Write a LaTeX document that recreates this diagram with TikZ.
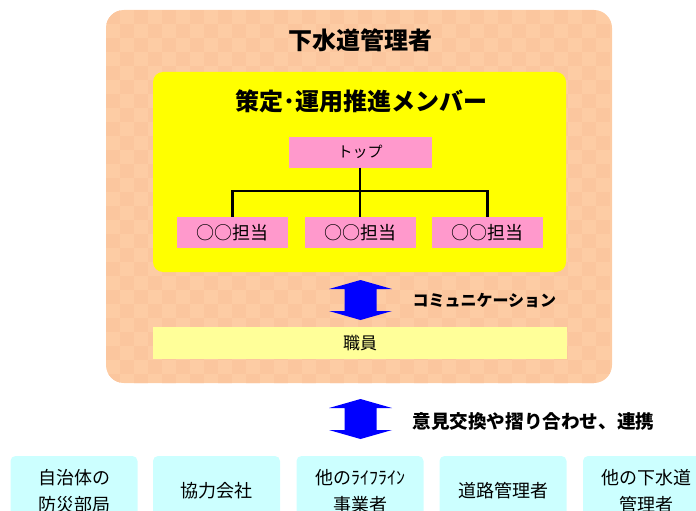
\documentclass[tikz,border=0pt]{standalone}
\usepackage{fontspec}
\newfontfamily\cjk{Noto Sans CJK JP}
\usetikzlibrary{positioning}
\definecolor{peach}{HTML}{FDCCA4}
\definecolor{peachdark}{HTML}{FBC69E}
\definecolor{ylw}{HTML}{FFFF00}
\definecolor{pinkbox}{HTML}{FF99CC}
\definecolor{paleylw}{HTML}{FFFF99}
\definecolor{cyanbox}{HTML}{CCFFFF}
\definecolor{arrowblue}{HTML}{0000FF}
\tikzset{
  x=1pt, y=-1pt,
  pinkrole/.style={fill=pinkbox, draw=none, minimum width=111pt, minimum height=31pt, inner sep=0pt, font=\cjk\fontsize{18}{20}\selectfont},
  partner/.style={fill=cyanbox, draw=none, rounded corners=5pt, minimum width=127pt, minimum height=70pt, inner sep=0pt, align=center},
  partnertext/.style={align=center, inner sep=0pt, font=\cjk\fontsize{18}{27}\selectfont},
  orgline/.style={draw=black, line width=2.4pt},
  bigarrow/.style={fill=arrowblue, draw=none},
}
\begin{document}
\begin{tikzpicture}
\useasboundingbox (0,0) rectangle (696,511);
\clip (0,0) rectangle (696,511);
% outer sewer manager box
\fill[peach, rounded corners=18pt] (106,10) rectangle (612,383);
% subtle checker texture
\begin{scope}
\clip[rounded corners=18pt] (106,10) rectangle (612,383);
\foreach \i in {0,...,35}{
  \foreach \j in {0,...,26}{
    \pgfmathtruncatemacro{\chk}{mod(\i+\j,2)}
    \ifnum\chk=0
      \fill[peachdark] (106+\i*14,10+\j*14) rectangle ++(14,14);
    \fi
  }
}
\end{scope}
\node[font=\cjk\fontsize{24}{28}\selectfont\bfseries] (title) at (360,40) {下水道管理者};
% members box
\fill[ylw, rounded corners=10pt] (153,72) rectangle (566,272);
\node[font=\cjk\fontsize{24}{28}\selectfont\bfseries] (members) at (361,101) {策定･運用推進メンバー};
% org chart
\node[pinkrole, minimum width=143pt, font=\cjk\fontsize{15}{18}\selectfont] (top) at (360,152) {トップ};
\node[pinkrole] (r1) at (232.5,232.5) {○○担当};
\node[pinkrole] (r2) at (360,232.5) {○○担当};
\node[pinkrole] (r3) at (487.5,232.5) {○○担当};
\coordinate (hub) at (360,191);
\draw[orgline] (top.south) -- (hub);
\draw[orgline] (r1.north) |- (hub) -| (r3.north);
\draw[orgline] (hub) -- (r2.north);
% communication arrow
\path[bigarrow] (360.5,280) -- (392,289) -- (376.5,289) -- (376.5,311) -- (392,311) -- (360.5,320)
  -- (329,311) -- (344.5,311) -- (344.5,289) -- (329,289) -- cycle;
\node[anchor=west, font=\cjk\fontsize{16}{20}\selectfont\bfseries] (comm) at (409,301) {コミュニケーション};
% staff
\node[fill=paleylw, minimum width=414pt, minimum height=32pt, inner sep=0pt, font=\cjk\fontsize{17}{20}\selectfont] (staff) at (360,343) {職員};
% exchange arrow
\path[bigarrow] (360.5,399) -- (392,408) -- (376.5,408) -- (376.5,430) -- (392,430) -- (360.5,439)
  -- (329,430) -- (344.5,430) -- (344.5,408) -- (329,408) -- cycle;
\node[anchor=west, font=\cjk\fontsize{18.6}{22}\selectfont\bfseries] (exch) at (409,421) {意見交換や摺り合わせ、連携};
% partners
\node[partner] (p1) at (74,491) {};
\node[partnertext] (t1) at (74,491) {自治体の\\防災部局};
\node[partner] (p2) at (216.5,491) {};
\node[partnertext] (t2) at (216.5,491) {協力会社};
\node[partner] (p3) at (360,491) {};
\node[partnertext] (t3) at (360,491) {他のﾗｲﾌﾗｲﾝ\\事業者};
\node[partner] (p4) at (503,491) {};
\node[partnertext] (t4) at (503,491) {道路管理者};
\node[partner] (p5) at (646.5,491) {};
\node[partnertext] (t5) at (646.5,491) {他の下水道\\管理者};
\end{tikzpicture}
\end{document}
